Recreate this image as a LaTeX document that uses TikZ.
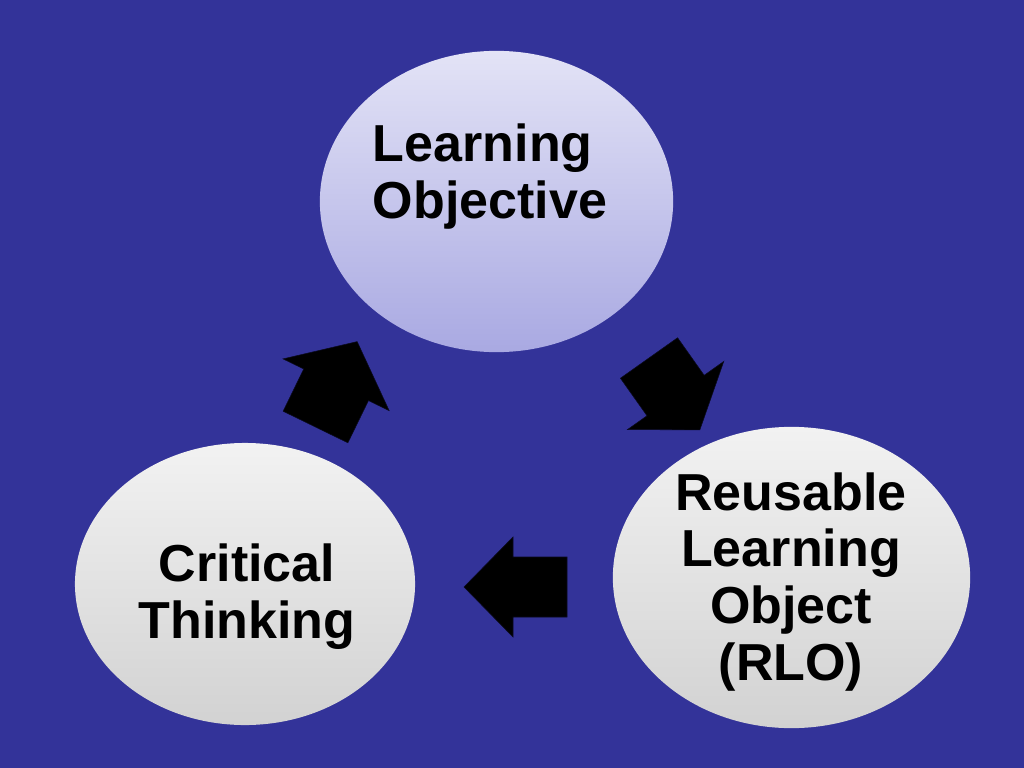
\documentclass[tikz,border=0pt]{standalone}
\usepackage{fontspec}
\setmainfont{Liberation Sans}
\usetikzlibrary{shapes.geometric}
\definecolor{bgblue}{HTML}{333399}
\definecolor{lavtop}{HTML}{E3E3F6}
\definecolor{lavbot}{HTML}{A9A9E2}
\definecolor{greytop}{HTML}{F2F2F2}
\definecolor{greybot}{HTML}{D2D2D2}
\begin{document}
\begin{tikzpicture}[x=0.025cm, y=-0.025cm]
		\tikzset{
		    goal/.style= {ellipse, top color=lavtop, bottom color=lavbot, inner sep=0pt},
		    bubble/.style= {ellipse, top color=greytop, bottom color=greybot, inner sep=0pt},
		    blabel/.style= {font=\bfseries\fontsize{37}{40.5}\selectfont, text=black, inner sep=0pt},
		    barrow/.style= {fill=black, draw=black!80!bgblue, line join=miter},
		}
		
		\fill[bgblue] (0,0) rectangle (1024,768);
		
		\node[goal, minimum width=8.83cm, minimum height=7.53cm] (lo) at (496.5, 201.5) {};
		\node[bubble, minimum width=8.5cm, minimum height=7.05cm] (ct) at (245, 584) {};
		\node[bubble, minimum width=8.93cm, minimum height=7.53cm] (rlo) at (791.5, 577.5) {};
		
		\node[blabel, align=left] (lotext) at (490, 177) {Learning\\Objective};
		\node[blabel, align=center] (cttext) at (247, 597) {Critical\\Thinking};
		\node[blabel, align=center] (rlotext) at (791, 582) {Reusable\\Learning\\Object\\(RLO)};
		
		\fill[barrow, shift={(315.5, 427)}, rotate=64]
		(0,-36) -- (47,-36) -- (47,-59) -- (95,0) -- (47,59) -- (47,36) -- (0,36) -- cycle;
		\fill[barrow, shift={(649, 358)}, rotate=-54.7]
		(0,-35) -- (46,-35) -- (46,-59) -- (88,0) -- (46,59) -- (46,35) -- (0,35) -- cycle;
		\fill[barrow, shift={(567, 587)}, rotate=180]
		(0,-30) -- (54,-30) -- (54,-50) -- (103,0) -- (54,50) -- (54,30) -- (0,30) -- cycle;
	\end{tikzpicture}
\end{document}
